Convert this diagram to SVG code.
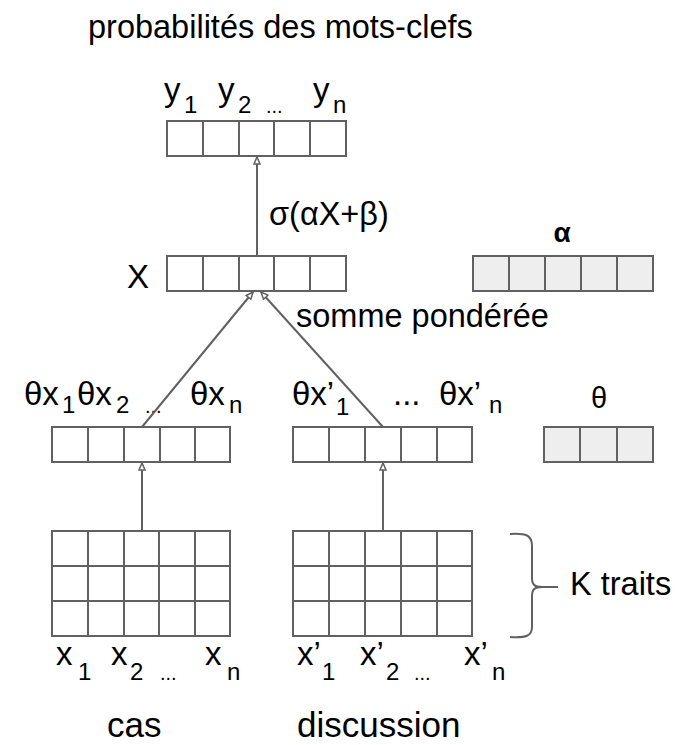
<svg xmlns="http://www.w3.org/2000/svg" width="683" height="745" viewBox="0 0 683 745">
<defs>
<style>
.c{fill:#ffffff;stroke:#616161;stroke-width:2}
.p{fill:#eeeeee;stroke:#616161;stroke-width:2}
.ln{fill:none;stroke:#616161;stroke-width:2}
text{font-family:"Liberation Sans",Arial,sans-serif;fill:#000000}
.m{font-size:33px}
.s{font-size:24px}
.d{font-size:20px}
.t{font-size:32.5px}
.b{font-size:35px}
</style>
<marker id="ah" markerWidth="10" markerHeight="10" refX="8" refY="4" orient="auto" markerUnits="userSpaceOnUse">
<path d="M1,1 L8,4 L1,7 Z" fill="#ffffff" stroke="#616161" stroke-width="1.5"/>
</marker>
</defs>
<rect width="683" height="745" fill="#ffffff"/>

<text class="t" x="88" y="38">probabilités des mots-clefs</text>

<g id="y-row">
<rect class="c" x="167" y="121" width="36" height="35"/>
<rect class="c" x="203" y="121" width="36" height="35"/>
<rect class="c" x="239" y="121" width="35" height="35"/>
<rect class="c" x="274" y="121" width="36" height="35"/>
<rect class="c" x="310" y="121" width="36" height="35"/>
<text class="m" x="164" y="101">y</text><text class="s" x="184" y="113">1</text>
<text class="m" x="218" y="101">y</text><text class="s" x="238" y="113">2</text>
<text class="d" x="266" y="113">...</text>
<text class="m" x="313" y="101">y</text><text class="s" x="333" y="113">n</text>
</g>

<g id="x-row">
<rect class="c" x="167" y="256" width="36" height="35"/>
<rect class="c" x="203" y="256" width="36" height="35"/>
<rect class="c" x="239" y="256" width="35" height="35"/>
<rect class="c" x="274" y="256" width="36" height="35"/>
<rect class="c" x="310" y="256" width="36" height="35"/>
<text class="m" x="127" y="288">X</text>
</g>

<g id="alpha-row">
<rect class="p" x="473" y="256" width="36" height="35"/>
<rect class="p" x="509" y="256" width="36" height="35"/>
<rect class="p" x="545" y="256" width="36" height="35"/>
<rect class="p" x="581" y="256" width="36" height="35"/>
<rect class="p" x="617" y="256" width="36" height="35"/>
<text x="562" y="242" text-anchor="middle" font-size="28" font-weight="bold">α</text>
</g>

<g id="theta-left">
<rect class="c" x="52" y="427" width="36" height="35"/>
<rect class="c" x="88" y="427" width="36" height="35"/>
<rect class="c" x="124" y="427" width="36" height="35"/>
<rect class="c" x="160" y="427" width="35" height="35"/>
<rect class="c" x="195" y="427" width="35" height="35"/>
<text class="m" x="24" y="405">θx</text><text class="s" x="62" y="413">1</text>
<text class="m" x="77" y="405">θx</text><text class="s" x="116" y="413">2</text>
<text class="d" x="145" y="413">...</text>
<text class="m" x="190" y="405">θx</text><text class="s" x="229" y="413">n</text>
</g>

<g id="theta-right">
<rect class="c" x="293" y="427" width="36" height="35"/>
<rect class="c" x="329" y="427" width="36" height="35"/>
<rect class="c" x="365" y="427" width="36" height="35"/>
<rect class="c" x="401" y="427" width="36" height="35"/>
<rect class="c" x="437" y="427" width="35" height="35"/>
<text class="m" x="292" y="405">θx’</text><text class="s" x="336" y="415">1</text>
<text class="m" x="393" y="405">...</text>
<text class="m" x="439" y="405">θx’</text><text class="s" x="489" y="413">n</text>
</g>

<g id="theta-param">
<rect class="p" x="544" y="427" width="36" height="35"/>
<rect class="p" x="580" y="427" width="37" height="35"/>
<rect class="p" x="617" y="427" width="36" height="35"/>
<text x="599" y="408" text-anchor="middle" font-size="29">θ</text>
</g>

<g id="grid-cas">
<rect class="c" x="52" y="531" width="178" height="105"/>
<path class="ln" d="M88,531V636M124,531V636M159,531V636M195,531V636M52,566H230M52,601H230"/>
<text class="m" x="56" y="665">x</text><text class="s" x="78" y="680">1</text>
<text class="m" x="111" y="665">x</text><text class="s" x="130" y="680">2</text>
<text class="d" x="160" y="680">...</text>
<text class="m" x="205" y="665">x</text><text class="s" x="227" y="680">n</text>
<text class="b" x="107" y="737">cas</text>
</g>

<g id="grid-discussion">
<rect class="c" x="293" y="531" width="179" height="105"/>
<path class="ln" d="M329,531V636M365,531V636M401,531V636M437,531V636M293,566H472M293,601H472"/>
<text class="m" x="297" y="665">x’</text><text class="s" x="322" y="680">1</text>
<text class="m" x="360" y="665">x’</text><text class="s" x="386" y="680">2</text>
<text class="d" x="414" y="680">...</text>
<text class="m" x="464" y="665">x’</text><text class="s" x="492" y="680">n</text>
<text class="b" x="297" y="737">discussion</text>
</g>

<g id="k-traits">
<path class="ln" d="M510,534 C526,533 532,535 532,546 V578 C532,585 535,587 542,587 H558 M542,587 C535,587 532,589 532,596 V627 C532,636 526,638 510,637"/>
<text class="t" x="570" y="595">K traits</text>
</g>

<g id="connectors">
<line class="ln" x1="257" y1="256" x2="257" y2="157" marker-end="url(#ah)"/>
<line class="ln" x1="142" y1="531" x2="142" y2="463" marker-end="url(#ah)"/>
<line class="ln" x1="383" y1="531" x2="383" y2="463" marker-end="url(#ah)"/>
<line class="ln" x1="142" y1="427" x2="253" y2="292" marker-end="url(#ah)"/>
<line class="ln" x1="383" y1="427" x2="261" y2="292" marker-end="url(#ah)"/>
<text class="t" x="269" y="225">σ(αX+β)</text>
<text class="t" x="296" y="327">somme pondérée</text>
</g>
</svg>
